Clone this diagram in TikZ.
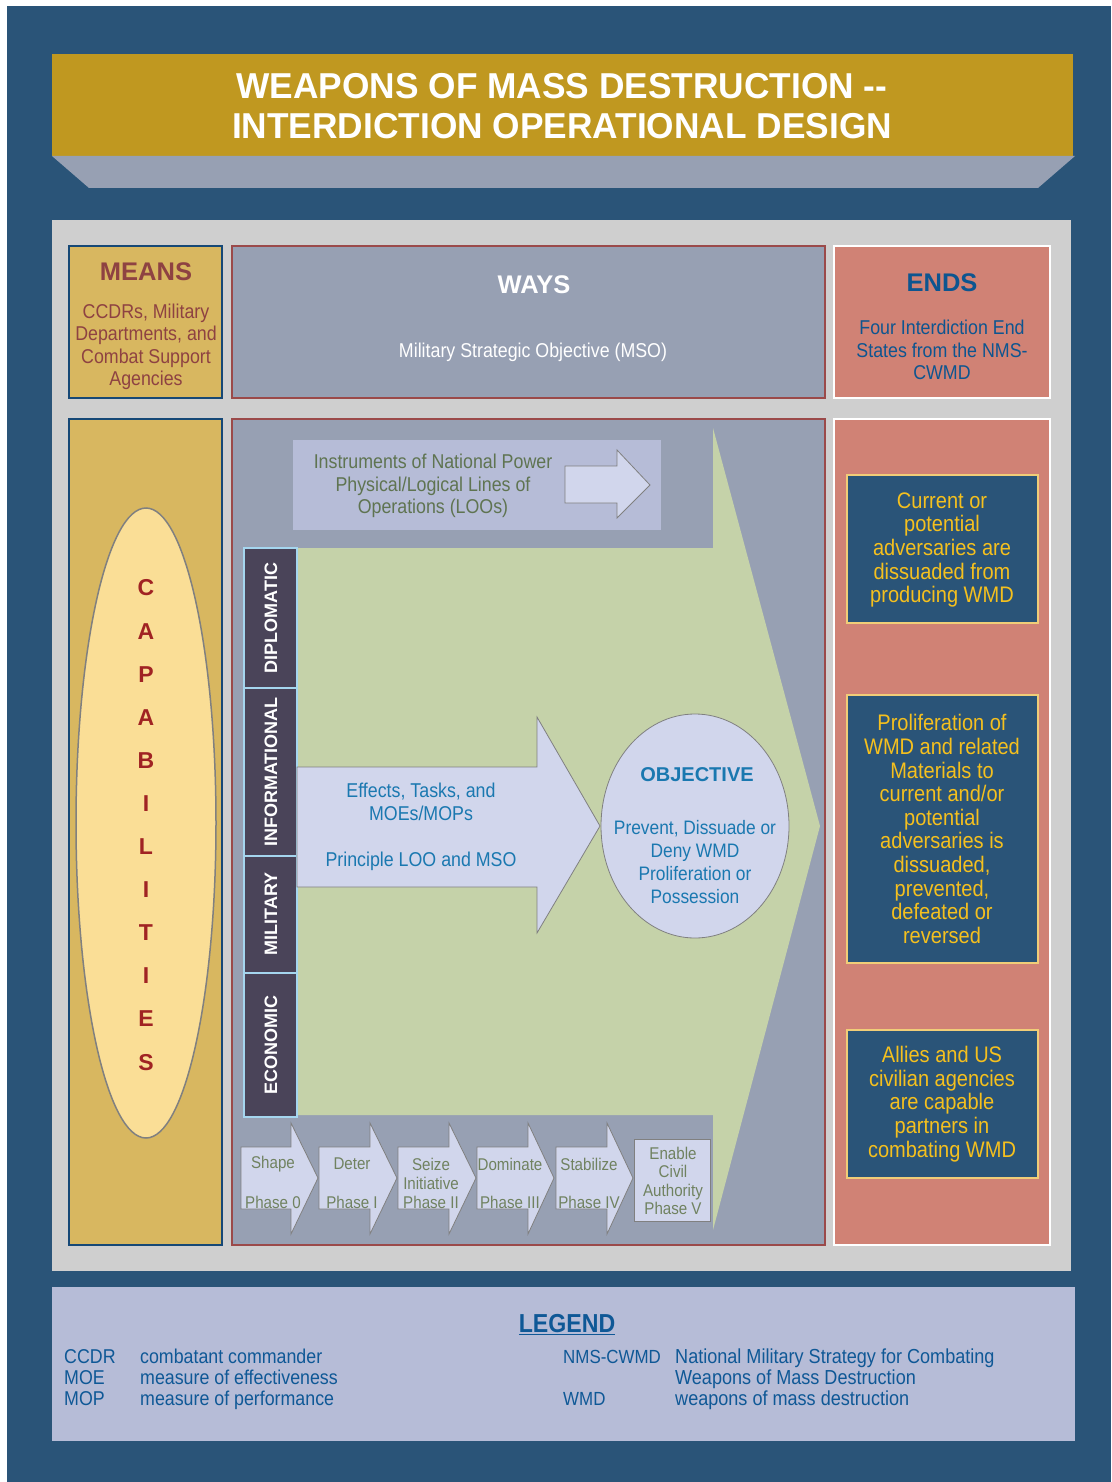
\documentclass[tikz,border=0pt]{standalone}
\usepackage{fontspec}
\setmainfont{Liberation Sans}
\newfontfamily\narrow{Liberation Sans}[FakeStretch=0.89]
\newfontfamily\titlefont{Liberation Sans}[FakeStretch=0.98]
\definecolor{bgblue}{RGB}{42,84,120}
\definecolor{titlegold}{RGB}{192,152,32}
\definecolor{trapgray}{RGB}{151,160,179}
\definecolor{panelgray}{RGB}{207,207,207}
\definecolor{meansgold}{RGB}{216,183,96}
\definecolor{meansborder}{RGB}{22,72,118}
\definecolor{meanstext}{RGB}{142,66,66}
\definecolor{waysgray}{RGB}{151,160,179}
\definecolor{waysborder}{RGB}{155,74,74}
\definecolor{endssalmon}{RGB}{208,130,117}
\definecolor{endsblue}{RGB}{13,85,144}
\definecolor{arrowgreen}{RGB}{197,210,169}
\definecolor{lavender}{RGB}{182,188,215}
\definecolor{lightfill}{RGB}{209,214,236}
\definecolor{dimefill}{RGB}{74,68,89}
\definecolor{dimeborder}{RGB}{165,214,239}
\definecolor{olivetext}{RGB}{95,116,81}
\definecolor{phasetext}{RGB}{112,130,96}
\definecolor{arrowblue}{RGB}{26,120,176}
\definecolor{capyellow}{RGB}{250,222,150}
\definecolor{capred}{RGB}{160,35,35}
\definecolor{endboxborder}{RGB}{240,205,120}
\definecolor{endboxtext}{RGB}{245,192,30}
\definecolor{legendtext}{RGB}{15,88,150}
\definecolor{edgegray}{RGB}{128,128,128}
\tikzset{
  lbl/.style={inner sep=0pt, align=center},
  narrowtxt/.style={lbl, font=\narrow\fontsize{20}{22.5}\selectfont},
  boldhead/.style={lbl, font=\bfseries\fontsize{25.5}{28}\selectfont},
  dimebox/.style={draw=dimeborder, line width=2pt, fill=dimefill},
  dimetxt/.style={lbl, rotate=90, text=white, font=\bfseries\fontsize{18}{20}\selectfont},
  endbox/.style={draw=endboxborder, line width=2.5pt, fill=bgblue},
  endtxt/.style={lbl, text=endboxtext, font=\narrow\fontsize{22.5}{23.6}\selectfont},
  phasearrow/.style={draw=edgegray, line width=0.8pt, fill=lightfill},
  phasetxt/.style={lbl, text=phasetext, font=\narrow\fontsize{17}{19}\selectfont},
  legtxt/.style={inner sep=0pt, anchor=base west, align=left, text=legendtext, font=\narrow\fontsize{20}{21}\selectfont}
}
\begin{document}
\begin{tikzpicture}[x=1pt,y=-1pt]
\useasboundingbox (0,0) rectangle (1111,1482);
\fill[white] (0,0) rectangle (1111,1482);
\fill[bgblue] (7,6) rectangle (1111,1482);
% title
\fill[titlegold] (52,54) rectangle (1073,156);
\fill[trapgray] (52,156) -- (1075,156) -- (1038,188) -- (89,188) -- cycle;
\node[lbl, text=white, font=\titlefont\bfseries\fontsize{36}{40}\selectfont] (title) at (562,106)
  {WEAPONS OF MASS DESTRUCTION --\\INTERDICTION OPERATIONAL DESIGN};
% panel
\fill[panelgray] (52,220) rectangle (1071,1271);
% header row
\draw[meansborder, line width=2pt, fill=meansgold] (69,246) rectangle (222,398);
\node[boldhead, text=meanstext] (means) at (146,272) {MEANS};
\node[narrowtxt, text=meanstext] (meanstxt) at (146,347) {CCDRs, Military\\Departments, and\\Combat Support\\Agencies};
\draw[waysborder, line width=2pt, fill=waysgray] (232,246) rectangle (825,398);
\node[boldhead, text=white] (ways) at (534,285) {WAYS};
\node[narrowtxt, text=white] (mso) at (533,352) {Military Strategic Objective (MSO)};
\draw[white, line width=2.5pt, fill=endssalmon] (834,246) rectangle (1050,398);
\node[boldhead, text=endsblue] (ends) at (942,283) {ENDS};
\node[narrowtxt, text=endsblue] (endstxt) at (942,350) {Four Interdiction End\\States from the NMS-\\CWMD};
% capabilities
\draw[meansborder, line width=2pt, fill=meansgold] (69,419) rectangle (222,1245);
\draw[edgegray, line width=1.5pt, fill=capyellow] (146,823) ellipse [x radius=70pt, y radius=315pt];
\foreach \l [count=\i] in {C,A,P,A,B,I,L,I,T,I,E,S}
  \node[lbl, text=capred, font=\bfseries\fontsize{23}{25}\selectfont] (cap\i) at (146,{588+43.1*(\i-1)}) {\l};
% ways main
\draw[waysborder, line width=2pt, fill=waysgray] (232,419) rectangle (825,1245);
\fill[arrowgreen] (297,548) -- (713,548) -- (713,428) -- (820,826) -- (713,1230) -- (713,1115) -- (297,1115) -- cycle;
\fill[lavender] (293,440) rectangle (661,530);
\node[narrowtxt, text=olivetext] (instr) at (433,486) {Instruments of National Power\\Physical/Logical Lines of\\Operations (LOOs)};
\draw[edgegray, line width=0.8pt, fill=lightfill] (565,466) -- (617,466) -- (617,450) -- (650,485) -- (617,518) -- (617,503) -- (565,503) -- cycle;
% DIME
\draw[dimebox] (244,548) rectangle (297,688);
\draw[dimebox] (244,688) rectangle (297,856);
\draw[dimebox] (244,856) rectangle (297,973);
\draw[dimebox] (244,973) rectangle (297,1117);
\node[dimetxt] (dip) at (271,618) {DIPLOMATIC};
\node[dimetxt] (inf) at (271,772) {INFORMATIONAL};
\node[dimetxt] (mil) at (271,914) {MILITARY};
\node[dimetxt] (eco) at (271,1045) {ECONOMIC};
% middle arrow
\draw[edgegray, line width=0.8pt, fill=lightfill] (297,767) -- (537,767) -- (537,717) -- (600,826) -- (537,933) -- (537,887) -- (297,887) -- cycle;
\node[narrowtxt, text=arrowblue] (effects) at (421,802) {Effects, Tasks, and\\MOEs/MOPs};
\node[narrowtxt, text=arrowblue] (ploo) at (421,861) {Principle LOO and MSO};
% objective
\draw[edgegray, line width=0.8pt, fill=lightfill] (695,826) ellipse [x radius=94pt, y radius=112pt];
\node[lbl, text=arrowblue, font=\bfseries\fontsize{20}{22}\selectfont] (obj) at (697,775) {OBJECTIVE};
\node[narrowtxt, text=arrowblue, font=\narrow\fontsize{19.5}{22.7}\selectfont] (objtxt) at (695,862) {Prevent, Dissuade or\\Deny WMD\\Proliferation or\\Possession};
% phases
\draw[phasearrow] (241,1147) -- (291,1147) -- (291,1123) -- (318,1178) -- (291,1234) -- (291,1209) -- (241,1209) -- cycle;
\draw[phasearrow] (319,1147) -- (370,1147) -- (370,1123) -- (397,1178) -- (370,1234) -- (370,1209) -- (319,1209) -- cycle;
\draw[phasearrow] (398,1147) -- (449,1147) -- (449,1123) -- (476,1178) -- (449,1234) -- (449,1209) -- (398,1209) -- cycle;
\draw[phasearrow] (477,1147) -- (528,1147) -- (528,1123) -- (554,1178) -- (528,1234) -- (528,1209) -- (477,1209) -- cycle;
\draw[phasearrow] (556,1147) -- (607,1147) -- (607,1123) -- (633,1178) -- (607,1234) -- (607,1209) -- (556,1209) -- cycle;
\draw[phasearrow] (634,1139) rectangle (710,1221);
\node[phasetxt] (p0a) at (273,1164) {Shape};
\node[phasetxt] (p0b) at (273,1202) {Phase 0};
\node[phasetxt] (p1a) at (352,1164) {Deter};
\node[phasetxt] (p1b) at (352,1202) {Phase I};
\node[phasetxt] (p2) at (431,1183) {Seize\\Initiative\\Phase II};
\node[phasetxt] (p3a) at (510,1164) {Dominate};
\node[phasetxt] (p3b) at (510,1202) {Phase III};
\node[phasetxt] (p4a) at (589,1164) {Stabilize};
\node[phasetxt] (p4b) at (589,1202) {Phase IV};
\node[phasetxt, font=\narrow\fontsize{17}{18.5}\selectfont] (p5) at (673,1181) {Enable\\Civil\\Authority\\Phase V};
% ends column
\draw[white, line width=2.5pt, fill=endssalmon] (834,419) rectangle (1050,1245);
\draw[endbox] (847,475) rectangle (1038,623);
\node[endtxt] (end1) at (942,550) {Current or\\potential\\adversaries are\\dissuaded from\\producing WMD};
\draw[endbox] (847,695) rectangle (1038,963);
\node[endtxt] (end2) at (942,829) {Proliferation of\\WMD and related\\Materials to\\current and/or\\potential\\adversaries is\\dissuaded,\\prevented,\\defeated or\\reversed};
\draw[endbox] (847,1030) rectangle (1038,1178);
\node[endtxt] (end3) at (942,1104) {Allies and US\\civilian agencies\\are capable\\partners in\\combating WMD};
% legend
\fill[lavender] (52,1287) rectangle (1075,1441);
\node[lbl, text=legendtext, font=\narrow\bfseries\fontsize{26}{28}\selectfont] (legend) at (567,1325) {\underline{LEGEND}};
\node[legtxt] (k1) at (64,1405) {CCDR\\MOE\\MOP};
\node[legtxt] (v1) at (140,1405) {combatant commander\\measure of effectiveness\\measure of performance};
\node[legtxt, font=\narrow\fontsize{19}{21}\selectfont] (k2) at (563,1405) {NMS-CWMD\\\\WMD};
\node[legtxt, font=\narrow\fontsize{20.3}{21}\selectfont] (v2) at (675,1405) {National Military Strategy for Combating\\Weapons of Mass Destruction\\weapons of mass destruction};
\end{tikzpicture}
\end{document}
